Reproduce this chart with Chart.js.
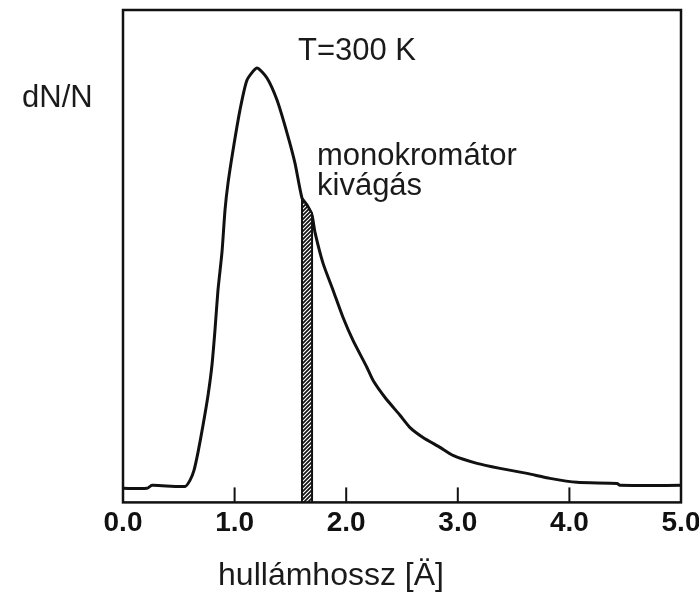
<!DOCTYPE html>
<html>
<head>
<meta charset="utf-8">
<script src="https://cdn.jsdelivr.net/npm/chart.js@4.4.0/dist/chart.umd.min.js"></script>
<style>
html, body { margin: 0; padding: 0; background: #fff; }
#wrap { width: 699px; height: 593px; }
</style>
</head>
<body>
<div id="wrap"><canvas id="c" width="699" height="593"></canvas></div>
<script>
// wavelength [Å] and relative intensity of the neutron spectrum
var wavelength = [0.00, 0.215, 0.26, 0.556, 0.600, 0.636, 0.672, 0.717, 0.762, 0.797, 0.824, 0.851, 0.887,
	0.914, 0.941, 0.986, 1.048, 1.111, 1.20, 1.29, 1.38, 1.47, 1.541, 1.604, 1.649, 1.694, 1.72, 1.792,
	1.882, 1.971, 2.061, 2.186, 2.24, 2.348, 2.482, 2.572, 2.688, 2.84, 2.957, 3.172, 3.378, 3.62, 3.826,
	4.068, 4.427, 4.453, 5.00];
var intensity = [2.85, 2.85, 3.46, 3.25, 4.47, 6.50, 10.16, 15.65, 21.75, 27.85, 34.96, 43.09, 50.81,
	59.35, 64.84, 71.54, 79.67, 85.77, 88.2, 86.2, 81.7, 75.0, 68.9, 61.8, 60.4, 58.3, 54.9, 48.6,
	43.1, 37.6, 32.9, 27.4, 24.8, 21.3, 17.7, 15.2, 13.2, 11.18, 9.55, 7.93, 6.91, 5.89, 4.88,
	4.07, 3.86, 3.46, 3.46];

// monochromator cut (hatched band)
var cutX = [1.604, 1.604, 1.694, 1.694];
var cutY = [0, 61.8, 58.7, 0];

var xTicks = [0, 1, 2, 3, 4, 5];

var curve = wavelength.map((x, i) => ({x: x, y: intensity[i]}));
var cut = cutX.map((x, i) => ({x: x, y: cutY[i]}));

// hatch pattern for the cut
var pc = document.createElement('canvas');
pc.width = pc.height = 4;
var p = pc.getContext('2d');
p.fillStyle = '#111';
p.fillRect(0, 0, 4, 4);
p.strokeStyle = '#fff';
p.lineWidth = 1.2;
p.beginPath();
p.moveTo(0, 4); p.lineTo(4, 0);
p.moveTo(-1, 1); p.lineTo(1, -1);
p.moveTo(3, 5); p.lineTo(5, 3);
p.stroke();
var hatch = document.getElementById('c').getContext('2d').createPattern(pc, 'repeat');

var FONT = '"Liberation Sans", Arial, Helvetica, sans-serif';

var decor = {
	id: 'decor',
	afterDraw(chart) {
		var ctx = chart.ctx, a = chart.chartArea, xs = chart.scales.x;
		ctx.save();
		ctx.strokeStyle = '#111';
		ctx.lineWidth = 2.5;
		ctx.strokeRect(a.left, a.top, a.right - a.left, a.bottom - a.top);
		// inward tick marks
		ctx.lineWidth = 2;
		xTicks.slice(1, -1).forEach(v => {
			var px = xs.getPixelForValue(v);
			ctx.beginPath();
			ctx.moveTo(px, a.bottom);
			ctx.lineTo(px, a.bottom - 15);
			ctx.stroke();
		});
		ctx.fillStyle = '#1a1a1a';
		ctx.font = '31px ' + FONT;
		ctx.textBaseline = 'alphabetic';
		ctx.textAlign = 'left';
		ctx.fillText('dN/N', 22, 107);
		ctx.fillText('T=300 K', 298, 60);
		ctx.fillText('monokromátor', 317, 165);
		ctx.fillText('kivágás', 317, 195);
		ctx.font = '32px ' + FONT;
		ctx.textAlign = 'center';
		ctx.fillText('hullámhossz [Ä]', 331, 585);
		ctx.restore();
	}
};

new Chart(document.getElementById('c'), {
	type: 'line',
	data: {
		datasets: [{
			data: cut,
			borderColor: '#111',
			borderWidth: 2,
			backgroundColor: hatch,
			fill: 'origin',
			pointRadius: 0,
			tension: 0
		}, {
			data: curve,
			borderColor: '#111',
			borderWidth: 3,
			fill: false,
			pointRadius: 0,
			tension: 0.2
		}]
	},
	options: {
		responsive: false,
		animation: false,
		layout: {autoPadding: false, padding: {left: 123, right: 18, top: 10, bottom: 57}},
		plugins: {legend: {display: false}, tooltip: {enabled: false}},
		scales: {
			x: {
				type: 'linear',
				min: 0, max: 5,
				afterBuildTicks: (s) => { s.ticks = xTicks.map(v => ({value: v})); },
				grid: {display: false},
				border: {display: false},
				ticks: {
					padding: -4,
					color: '#111',
					font: {family: FONT, size: 28, weight: 'bold'},
					maxRotation: 0,
					callback: v => v.toFixed(1)
				}
			},
			y: {
				display: false,
				min: 0, max: 100
			}
		}
	},
	plugins: [decor]
});
</script>
</body>
</html>
